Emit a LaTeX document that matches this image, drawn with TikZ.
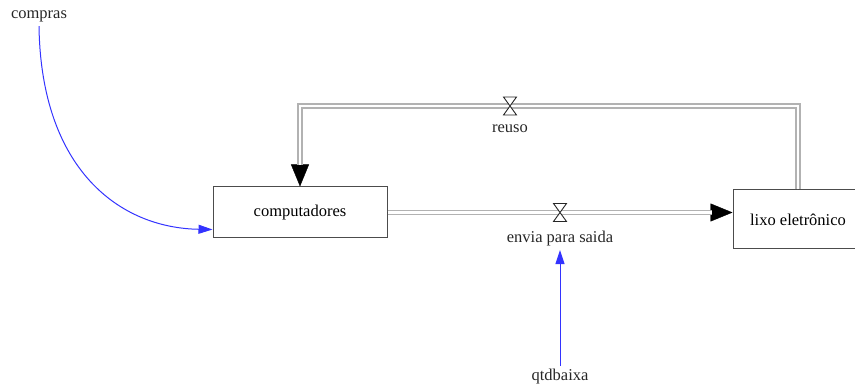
\documentclass[tikz,border=0pt]{standalone}
\usepackage{fontspec}
\setmainfont{Liberation Serif}
\usetikzlibrary{arrows.meta,positioning,calc}

\begin{document}
\begin{tikzpicture}[x=1pt,y=-1pt,
    stock/.style={draw=gray!60!black, line width=1pt, fill=white, font=\fontsize{16.5}{18}\selectfont},
    lbl/.style={font=\fontsize{16.5}{18}\selectfont, text=black!85, anchor=base},
    pipe/.style={draw=gray!60, line width=1.5pt, double=white, double distance=2.4pt, line join=miter},
    pipetip/.style={line width=0.4pt, -{Triangle[length=22pt,width=18pt]}},
    valve/.style={draw=gray!30!black, line width=0.9pt, fill=white, line join=miter},
    info/.style={blue!80, line width=1pt, -{Triangle[length=14pt,width=9pt]}}]
  \useasboundingbox (0,0) rectangle (855,387);

  % estoques
  \node[stock, minimum width=174pt, minimum height=51pt] (comp) at (300,212.5) {computadores};
  \node[stock, minimum width=130pt, minimum height=59pt] (lixo) at (798,219.5) {lixo eletrônico};

  % valvulas
  \coordinate (vreuso) at (510,106);
  \coordinate (venvia) at (560,212.5);

  % fluxos
  \draw[pipetip] (comp.east) -- (comp.east -| lixo.west);
  \draw[pipe, shorten >=21pt] (comp.east) -- (comp.east -| lixo.west);
  \draw[pipetip] (comp.north |- vreuso) -- (comp.north);
  \draw[pipe, shorten >=21pt] (lixo.north) |- (vreuso) -| (comp.north);
  \foreach \v in {vreuso,venvia}
    \draw[valve] ($(\v)+(-6.5,-9)$) -- ++(13,0) -- ++(-13,18) -- ++(13,0) -- cycle;

  % rotulos
  \node[lbl] (reuso) at (510,133) {reuso};
  \node[lbl] (envia) at (560,243) {envia para saida};
  \node[lbl] (compras) at (39,19) {compras};
  \node[lbl] (qtd) at (560,381) {qtdbaixa};

  % informacao
  \coordinate (entra) at ($(comp.south west)+(0,-9)$);
  \draw[info] (compras.south) .. controls (41,170) and (120,228) .. (entra);
  \draw[info] (qtd.north) -- (envia.south);
\end{tikzpicture}
\end{document}
